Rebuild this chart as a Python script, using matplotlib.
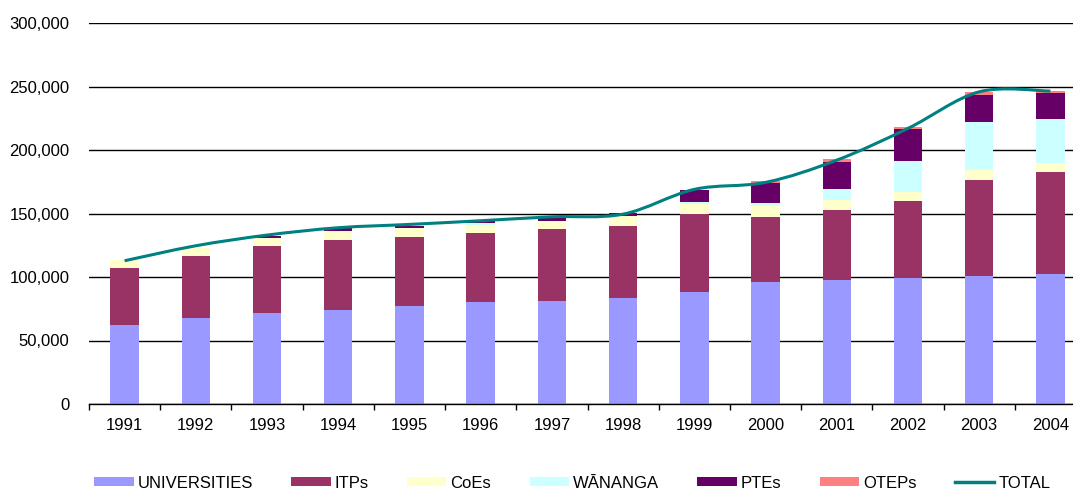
import matplotlib.pyplot as plt
from matplotlib.path import Path
from matplotlib.patches import PathPatch
from matplotlib.lines import Line2D
from matplotlib.ticker import FuncFormatter, FixedLocator
import numpy as np

plt.rcParams['font.family'] = ['Liberation Sans', 'DejaVu Sans']

years = ['1991', '1992', '1993', '1994', '1995', '1996', '1997',
         '1998', '1999', '2000', '2001', '2002', '2003', '2004']
universities = [62200, 67700, 71600, 74000, 77100, 80300, 81100,
                83400, 88100, 96000, 97600, 99200, 100700, 102300]
itps = [44900, 48800, 52800, 55100, 54400, 54500, 56700,
        56700, 61400, 51200, 55100, 60600, 75600, 80300]
coes = [6300, 6300, 6300, 7100, 7100, 6100, 6500,
        7900, 7900, 8600, 7800, 7000, 7900, 7100]
wananga = [0, 0, 0, 0, 0, 1500, 0,
           0, 1600, 2400, 8700, 24400, 37700, 34600]
ptes = [0, 0, 1600, 2100, 1600, 1600, 2200,
        2300, 9400, 15700, 21300, 25200, 21300, 20500]
oteps = [0, 0, 0, 0, 0, 0, 0,
         0, 0, 1600, 2300, 1600, 2300, 1600]
total = [112800, 124600, 133000, 138800, 141400, 144300, 147400,
         149500, 169000, 174500, 192000, 217000, 245800, 246400]

series = [('UNIVERSITIES', universities, '#9999FF'),
          ('ITPs', itps, '#993366'),
          ('CoEs', coes, '#FFFFCC'),
          ('WĀNANGA', wananga, '#CCFFFF'),
          ('PTEs', ptes, '#660066'),
          ('OTEPs', oteps, '#FF8080')]

fig = plt.figure(figsize=(10.73, 4.90), dpi=100)
ax = fig.add_axes([89 / 1073, 1 - 404 / 490, 997 / 1073, 381 / 490])

x = np.arange(len(years))
bottom = np.zeros(len(years))
handles = []
for name, vals, color in series:
    ax.bar(x, vals, 0.4, bottom=bottom, color=color, zorder=2)
    bottom += np.array(vals)
    handles.append(plt.Rectangle((0, 0), 1, 1, facecolor=color, label=name))

# smoothed total line (Catmull-Rom -> cubic bezier, like Excel's smoothed line)
pts = np.column_stack([x, total]).astype(float)
verts = [pts[0]]
codes = [Path.MOVETO]
n = len(pts)
for i in range(n - 1):
    p0 = pts[max(i - 1, 0)]
    p1 = pts[i]
    p2 = pts[i + 1]
    p3 = pts[min(i + 2, n - 1)]
    c1 = p1 + (p2 - p0) / 6
    c2 = p2 - (p3 - p1) / 6
    verts += [c1, c2, p2]
    codes += [Path.CURVE4] * 3
ax.add_patch(PathPatch(Path(verts, codes), facecolor='none', edgecolor='#008080',
                       linewidth=2.2, zorder=3))
handles.append(Line2D([], [], color='#008080', linewidth=2.5, label='TOTAL'))

ax.set_xlim(-0.5, len(years) - 0.5)
ax.set_ylim(0, 300000)
ax.set_yticks(np.arange(0, 300001, 50000))
ax.yaxis.set_major_formatter(FuncFormatter(lambda v, p: f'{int(v):,}'))
ax.grid(axis='y', color='black', linewidth=1, zorder=0)
ax.tick_params(axis='y', length=0, pad=14, labelsize=12)

ax.set_xticks(x, labels=years)
ax.xaxis.set_minor_locator(FixedLocator(np.arange(-0.5, len(years), 1)))
ax.tick_params(axis='x', which='major', length=0, pad=10, labelsize=12)
ax.tick_params(axis='x', which='minor', length=4, width=1, direction='out')

for side in ['left', 'right', 'top']:
    ax.spines[side].set_visible(False)
ax.spines['bottom'].set_linewidth(1)

fig.legend(handles=handles, ncol=7, frameon=False, fontsize=12,
           loc='center left', bbox_to_anchor=(86 / 1073, 1 - 483 / 490),
           borderpad=0, handlelength=2.35, handleheight=0.5,
           handletextpad=0.25, columnspacing=2.3)

fig.savefig('out.png', dpi=100)
